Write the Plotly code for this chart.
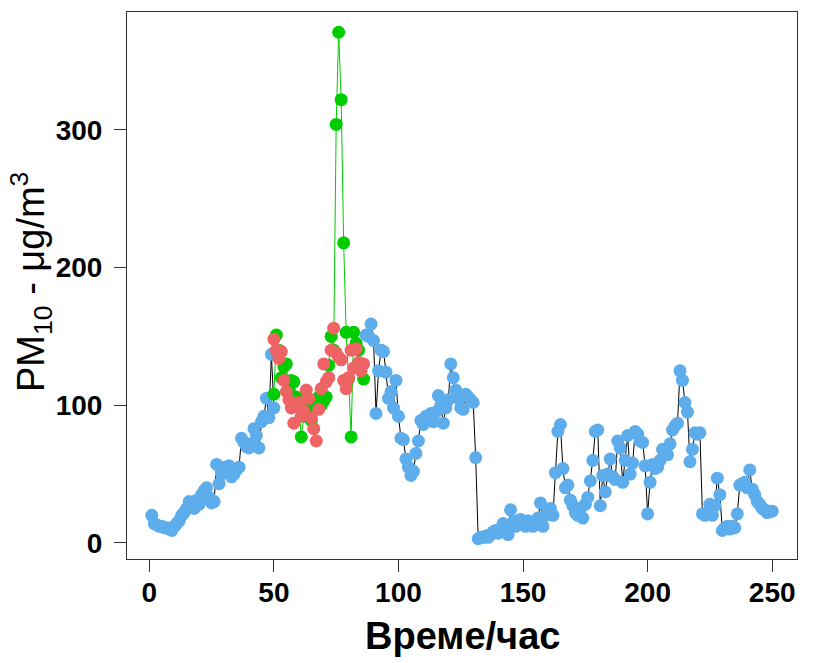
import plotly.graph_objects as go

# ---- data (hour index, PM10 in ug/m3) ----
hours = list(range(1, 251))

blue_first = [20, 14, 13, 12, 12, 11, 11, 10, 9, 12, 14, 16, 20, 22, 25, 30, 27, 25, 31, 28,
              35, 38, 40, 33, 29, 30, 57, 43, 50, 55, 52, 56, 48, 50, 53, 55, 76, 73, 70, 69,
              72, 83, 78, 69, 88, 92, 105, 91, 137, 98]            # hours 1-50
blue_gap = [None] * 36                                             # hours 51-86
blue_second = [151, 150, 159, 147, 94, 125, 140, 139, 124, 105,
               110, 98, 118, 92, 76, 75, 61, 55, 49, 52,
               65, 74, 89, 86, 92, 90, 94, 88, 95, 107,
               100, 87, 98, 104, 130, 120, 111, 105, 98, 97,
               108, 106, 104, 102, 62,                               # hours 87-131
               3, 4, 4, 5, 4, 6, 8, 9, 7, 10, 14, 12, 6, 24, 15, 12, 16, 17,   # 132-149
               14, 12, 16, 14, 12, 15, 18, 29, 12, 20, 22, 25, 20, 51, 81, 86, 54, 40, 42, 31,  # 150-169
               27, 22, 20, 25, 18, 28, 33, 45, 60, 81, 82, 27, 49, 37, 50, 61, 48, 46, 74, 69,  # 170-189
               44, 60, 78, 50, 58, 81, 79, 74, 73, 56, 21, 44, 57, 54, 55, 60, 68, 65, 64, 72,  # 190-209
               82, 85, 87, 125, 118, 102, 95, 59, 68, 80, 79, 80, 21, 20, 22, 28, 20, 27, 47, 35,  # 210-229
               9, 11, 12, 10, 12, 11, 21, 42, 43, 44, 40, 53, 39, 35, 30, 28, 25, 24, 22, 23, 23]  # 230-250
blue_pm = blue_first + blue_gap + blue_second

event_hours = list(range(50, 87))
green_pm = [108, 151, 140, 120, 128, 130, 112, 118, 117, 106, 100, 77, 92, 100, 96, 89, 97, 102,
            106, 100, 103, 106, 129, 150, 140, 304, 371, 322, 218, 153, 119, 77, 153, 145, 140,
            128, 119]
red_pm = [148, 140, 134, 139, 118, 110, 104, 98, 87, 100, 102, 92, 96, 111, 105, 91, 83, 74,
          97, 112, 130, 117, 120, 140, 156, 138, 135, 133, 118, 112, 120, 140, 127, 141, 131,
          125, 130]

x_ticks = [0, 50, 100, 150, 200, 250]
y_ticks = [0, 100, 200, 300]
x_title = "Време/час"
y_title = "PM<sub>10</sub> - μg/m<sup>3</sup>"

BLUE = "#5DADEC"
GREEN = "#00CD00"
RED = "#EE6363"
FONT = "Liberation Sans, Arial, sans-serif"
MS = 13

fig = go.Figure()
fig.add_trace(go.Scatter(x=hours, y=blue_pm, mode="lines+markers", connectgaps=False,
                         line=dict(color="black", width=1),
                         marker=dict(color=BLUE, size=MS), showlegend=False))
fig.add_trace(go.Scatter(x=event_hours, y=green_pm, mode="lines+markers",
                         line=dict(color=GREEN, width=1),
                         marker=dict(color=GREEN, size=MS), showlegend=False))
fig.add_trace(go.Scatter(x=event_hours, y=red_pm, mode="markers",
                         marker=dict(color=RED, size=MS), showlegend=False))

all_y = [v for v in blue_pm if v is not None] + green_pm + red_pm
ymin, ymax = min(all_y), max(all_y)
yr = ymax - ymin
xmin, xmax = min(hours), max(hours)
xr = xmax - xmin

axis_common = dict(showgrid=False, zeroline=False, showline=True, linecolor="#333333",
                   linewidth=1, mirror=True, ticks="outside", ticklen=12, tickcolor="#333333",
                   tickfont=dict(family=FONT, size=28, color="black", weight="bold"))

fig.update_xaxes(range=[xmin - 0.04 * xr, xmax + 0.04 * xr], tickmode="array",
                 tickvals=x_ticks, ticktext=[str(t) for t in x_ticks],
                 ticklabelstandoff=-4, **axis_common)
fig.update_yaxes(range=[ymin - 0.04 * yr, ymax + 0.04 * yr], tickmode="array",
                 tickvals=y_ticks, ticktext=[str(t) for t in y_ticks],
                 ticklabelstandoff=6, **axis_common)

L, R, T, B = 127, 21, 12, 104
W, H = 818, 663
pw, ph = W - L - R, H - T - B
fig.add_annotation(text=x_title, xref="paper", yref="paper",
                   x=0.5, y=(H - B - 636) / ph, xanchor="center", yanchor="middle",
                   showarrow=False,
                   font=dict(family=FONT, size=38, color="black", weight="bold"))
fig.add_annotation(text=y_title, xref="paper", yref="paper", textangle=-90,
                   x=(31 - L) / pw, y=(H - B - 282) / ph, xanchor="center", yanchor="middle",
                   showarrow=False, font=dict(family=FONT, size=38, color="black"))

fig.update_layout(width=W, height=H, margin=dict(l=L, r=R, t=T, b=B),
                  plot_bgcolor="white", paper_bgcolor="white")

fig.write_html("out.html")
